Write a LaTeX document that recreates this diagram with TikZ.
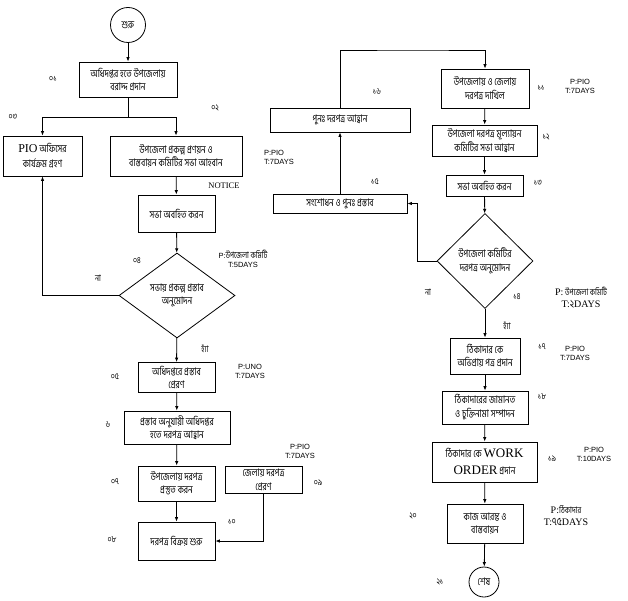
\documentclass[tikz,border=0pt]{standalone}
\usepackage{fontspec}
\setmainfont{Liberation Serif}
\newfontfamily\bn[Script=Bengali, FakeStretch=0.78]{Hind Siliguri}
\newfontfamily\ar{Liberation Sans}
\usetikzlibrary{arrows.meta,shapes.geometric}
\begin{document}
\begin{tikzpicture}[x=1pt,y=-1pt,
  box/.style={draw, line width=0.8pt, align=center, inner sep=0pt, font=\bn\fontsize{10.5}{13.5}\selectfont},
  dec/.style={draw, diamond, line width=0.8pt, align=center, inner sep=0pt, font=\bn\fontsize{10.5}{13.5}\selectfont},
  term/.style={draw, circle, line width=0.8pt, inner sep=0pt, font=\bn\fontsize{10.5}{11}\selectfont},
  num/.style={font=\bn\fontsize{9}{10}\selectfont, inner sep=0pt},
  note/.style={font=\ar\fontsize{7.5}{9}\selectfont, align=center, inner sep=0pt},
  snote/.style={font=\rmfamily\fontsize{10}{12}\selectfont, align=center, inner sep=0pt},
  arr/.style={-{Latex[length=4.5pt,width=3.5pt]}, line width=0.8pt},
  ln/.style={line width=0.8pt}]
\useasboundingbox (0,0) rectangle (628,601);

% ---------- left column ----------
\node[term, minimum size=35pt] (start) at (128,25) {শুরু};
\node[box, minimum width=98pt, minimum height=35pt] (b01) at (128,79.5) {অধিদপ্তর হতে উপজেলায়\\বরাদ্দ  প্রদান};
\node[box, minimum width=79pt, minimum height=40pt, font=\bn\fontsize{10.5}{15}\selectfont] (b03) at (42.5,156) {{\rmfamily\fontsize{12}{13}\selectfont PIO} অফিসের\\কার্যক্রম গ্রহণ};
\node[box, minimum width=132pt, minimum height=40pt] (b02) at (176,156) {উপজেলা প্রকল্প প্রণয়ন ও\\বাস্তবায়ন কমিটির সভা আহবান};
\node[box, minimum width=77pt, minimum height=37pt] (bsa) at (176.5,213.5) {সভা অবহিত করন};
\node[dec, minimum width=116pt, minimum height=85pt, aspect=1.36] (d04) at (177,295.5) {সভায় প্রকল্প প্রস্তাব\\অনুমোদন};
\node[box, minimum width=77pt, minimum height=30pt] (b05) at (176.5,377.5) {অধিদপ্তরে প্রস্তাব\\প্রেরণ};
\node[box, minimum width=106pt, minimum height=33pt] (b06) at (177,427.5) {প্রস্তাব অনুযায়ী অধিদপ্তর\\হতে দরপত্র আহ্বান};
\node[box, minimum width=77pt, minimum height=35pt] (b07) at (176.5,483.5) {উপজেলায় দরপত্র\\প্রস্তুত করন};
\node[box, minimum width=77pt, minimum height=38pt] (b08) at (176.5,541) {দরপত্র বিক্রয় শুরু};
\node[box, minimum width=77pt, minimum height=27pt] (b09) at (263.5,480) {জেলায় দরপত্র\\প্রেরণ};

% ---------- right column ----------
\node[box, minimum width=88pt, minimum height=39pt] (b11) at (485,88.5) {উপজেলায় ও জেলায়\\দরপত্র দাখিল};
\node[box, minimum width=105pt, minimum height=31pt] (b12) at (484.5,140.5) {উপজেলা দরপত্র মূল্যায়ন\\কমিটির  সভা আহ্বান};
\node[box, minimum width=77pt, minimum height=21pt] (b13) at (484.5,185.5) {সভা অবহিত করন};
\node[dec, minimum width=96pt, minimum height=95pt, aspect=1] (d14) at (485,261) {উপজেলা কমিটির\\দরপত্র অনুমোদন};
\node[box, minimum width=134pt, minimum height=19pt] (b15) at (340,203.5) {সংশোধন ও পুনঃ প্রস্তাব};
\node[box, minimum width=140pt, minimum height=24pt] (b16) at (340,120) {পুনঃ দরপত্র আহ্বান};
\node[box, minimum width=70pt, minimum height=36pt] (b17) at (485,356) {ঠিকাদার কে\\অভিপ্রায় পত্র প্রদান};
\node[box, minimum width=86pt, minimum height=33pt] (b18) at (485,407.5) {ঠিকাদারের জামানত\\ও চুক্তিনামা সম্পাদন};
\node[box, minimum width=105pt, minimum height=40pt, font=\bn\fontsize{10.5}{17}\selectfont] (b19) at (484.5,462) {ঠিকাদার কে {\rmfamily\fontsize{13}{14}\selectfont WORK}\\{\rmfamily\fontsize{13}{14}\selectfont ORDER} প্রদান};
\node[box, minimum width=76pt, minimum height=39pt] (b20) at (485,523.5) {কাজ আরম্ভ ও\\বাস্তবায়ন};
\node[term, minimum size=30pt] (end) at (484,582) {শেষ};

% ---------- connectors ----------
\coordinate (split) at (128,117);
\draw[arr] (start) -- (b01);
\draw[ln] (b01.south) -- (split);
\draw[arr] (split) -| (b03.north);
\draw[arr] (split) -| (b02.north);
\draw[arr] (b02) -- (bsa);
\draw[arr] (bsa) -- (d04);
\draw[arr] (d04.west) -| (b03.south);
\draw[arr] (d04) -- (b05);
\draw[arr] (b05) -- (b06);
\draw[arr] (b06) -- (b07);
\draw[arr] (b07) -- (b08);
\draw[arr] (b09.south) |- (b08.east);

\coordinate (loop) at (413,50);
\draw[arr] (b16.north) |- (loop) -| (b11.north);
\draw[arr] (b11) -- (b12);
\draw[arr] (b12) -- (b13);
\draw[arr] (b13) -- (d14);
\coordinate (nobend) at (417,261);
\draw[arr] (d14.west) -- (nobend) |- (b15.east);
\draw[arr] (b15) -- (b16);
\draw[arr] (d14) -- (b17);
\draw[arr] (b17) -- (b18);
\draw[arr] (b18) -- (b19);
\draw[arr] (b19) -- (b20);
\draw[arr] (b20) -- (end);

% ---------- step numbers ----------
\node[num] (n01) at (53,79) {০১};
\node[num] (n02) at (215,108) {০২};
\node[num] (n03) at (13,117) {০৩};
\node[num] (n04) at (137,261) {০৪};
\node[num] (n05) at (115,377) {০৫};
\node[num] (n06) at (108,425) {৬};
\node[num] (n07) at (115,482) {০৭};
\node[num] (n08) at (112,540) {০৮};
\node[num] (n09) at (318,483) {০৯};
\node[num] (n10) at (232,522) {১০};
\node[num] (n11) at (541,88) {১১};
\node[num] (n12) at (546,137) {১২};
\node[num] (n13) at (538,183) {১৩};
\node[num] (n14) at (517,297) {১৪};
\node[num] (n15) at (375,182) {১৫};
\node[num] (n16) at (377,92) {১৬};
\node[num] (n17) at (542,347) {১৭};
\node[num] (n18) at (542,397) {১৮};
\node[num] (n19) at (552,459) {১৯};
\node[num] (n20) at (413,516) {২০};
\node[num] (n21) at (440,582) {২১};

% ---------- branch labels ----------
\node[num] (no1) at (98,278) {না};
\node[num] (yes1) at (205,349) {হ্যাঁ};
\node[num] (no2) at (428,292) {না};
\node[num] (yes2) at (507,326) {হ্যাঁ};

% ---------- notes ----------
\node[font=\rmfamily\fontsize{8.5}{9}\selectfont, inner sep=0pt] (notice) at (224,186) {NOTICE};
\node[note] (p04) at (243,259) {P:{\bn\fontsize{9}{9}\selectfont উপজেলা কমিটি}\\T:5DAYS};
\node[note] (p05) at (250,371) {P:UNO\\T:7DAYS};
\node[note] (p09) at (300,451) {P:PIO\\T:7DAYS};
\node[note, align=left] (p16) at (279,157.5) {P:PIO\\T:7DAYS};
\node[note] (p11) at (580,86) {P:PIO\\T:7DAYS};
\node[note] (p17) at (575,353.5) {P:PIO\\T:7DAYS};
\node[note] (p19) at (594,454) {P:PIO\\T:10DAYS};
\node[snote] (p14) at (581,298) {P:{\bn\fontsize{9}{9}\selectfont ~উপজেলা কমিটি}\\T:{\bn\fontsize{11}{12}\selectfont ২}DAYS};
\node[snote] (p20) at (566,516) {P:{\bn\fontsize{9}{9}\selectfont ঠিকাদার}\\T:{\bn\fontsize{11}{12}\selectfont ৭৫}DAYS};
\end{tikzpicture}
\end{document}
